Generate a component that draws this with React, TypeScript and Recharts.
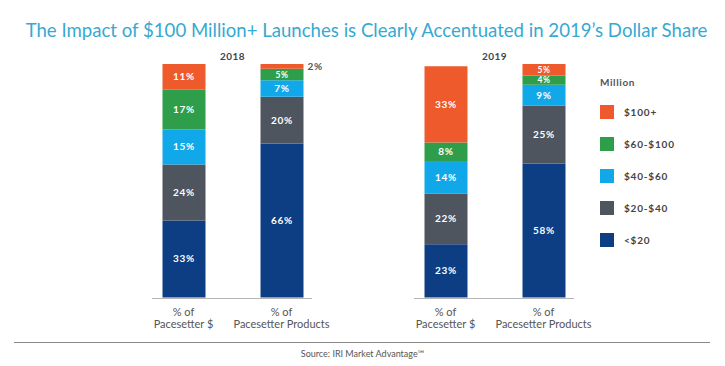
import { BarChart, Bar, XAxis, YAxis, LabelList } from "recharts";

const years = ["2018", "2019"];
const categories = ["% of\nPacesetter $", "% of\nPacesetter Products"];
const seriesNames = ["<$20", "$20-$40", "$40-$60", "$60-$100", "$100+"];
const seriesColors = ["#0D3E84", "#4F555F", "#11A8E9", "#2F9E4A", "#EE5A2C"];

// shares in %, bottom to top (<$20 ... $100+)
const dollars2018 = [33, 24, 15, 17, 11];
const products2018 = [66, 20, 7, 5, 2];
const dollars2019 = [23, 22, 14, 8, 33];
const products2019 = [58, 25, 9, 4, 5];

const toRows = (dollars: number[], products: number[]) =>
  [dollars, products].map((vals, i) => {
    const row: Record<string, string | number> = { cat: categories[i] };
    seriesNames.forEach((_, j) => (row[`s${j}`] = vals[j]));
    return row;
  });

const FONT = "Lato, 'Open Sans', sans-serif";

const SegLabel = (props: any) => {
  const vb = props.viewBox || {};
  const x = props.x ?? vb.x;
  const y = props.y ?? vb.y;
  const width = props.width ?? vb.width;
  const height = props.height ?? vb.height;
  const value = props.value;
  // thin segments get a slightly smaller label so neighbours don't collide
  const small = height < 12;
  const common = { fontSize: small ? 8.5 : 10, fontWeight: 700, fontFamily: FONT, letterSpacing: small ? 0.5 : 0.8 };
  if (value < 3) {
    return (
      <text x={x + width + 4} y={y + height / 2} dy={4} fill="#555" fontSize={10} fontWeight={700} fontFamily={FONT} letterSpacing={0.8}>
        {value}%
      </text>
    );
  }
  return (
    <text x={x + width / 2} y={y + height / 2} dy={small ? 3 : 3.5} textAnchor="middle" fill="#fff" {...common}>
      {value}%
    </text>
  );
};

const CatTick = (props: any) => {
  const { x, y, payload } = props;
  const lines = String(payload.value).split("\n");
  return (
    <text x={x} y={y} textAnchor="middle" fill="#555" fontSize={11} fontFamily={FONT}>
      {lines.map((l, i) => (
        <tspan key={i} x={x} dy={i === 0 ? 18 : 12}>
          {l}
        </tspan>
      ))}
    </text>
  );
};

function YearChart({ year, rows, left }: { year: string; rows: any[]; left: number }) {
  return (
    <div style={{ position: "absolute", left, top: 40, width: 270, height: 300 }}>
      <BarChart
        width={270}
        height={300}
        data={rows}
        margin={{ top: 24, right: 39.5, left: 34.5, bottom: 0 }}
        barSize={43}
      >
        <XAxis
          dataKey="cat"
          axisLine={false}
          tickLine={false}
          tickSize={0}
          tickMargin={0}
          height={42.5}
          interval={0}
          tick={<CatTick />}
        />
        <YAxis hide domain={[0, (max: number) => Math.max(100, max)]} />
        {seriesNames.map((s, j) => (
          <Bar key={s} dataKey={`s${j}`} stackId="a" fill={seriesColors[j]} isAnimationActive={false}>
            <LabelList dataKey={`s${j}`} content={SegLabel} />
          </Bar>
        ))}
      </BarChart>
      <div
        style={{
          position: "absolute",
          left: 34.5,
          width: 196,
          top: 10,
          textAlign: "center",
          fontSize: 10,
          fontWeight: 700,
          color: "#444",
          letterSpacing: 0.5,
        }}
      >
        {year}
      </div>
      <div style={{ position: "absolute", left: 52, width: 160, top: 257.5, height: 1, background: "#b5b5b5" }} />
    </div>
  );
}

export default function App() {
  const legendItems = seriesNames.map((n, i) => ({ n, c: seriesColors[i] })).reverse();
  return (
    <div
      style={{
        position: "absolute",
        left: 0,
        top: 0,
        width: 725,
        height: 366,
        background: "#fff",
        fontFamily: FONT,
        overflow: "hidden",
      }}
    >
      <div
        style={{
          position: "absolute",
          top: 18,
          left: 4,
          width: 725,
          textAlign: "center",
          fontSize: 18.6,
          color: "#36A9D2",
          lineHeight: "24px",
        }}
      >
        The Impact of $100 Million+ Launches is Clearly Accentuated in 2019’s Dollar Share
      </div>

      <YearChart year={years[0]} rows={toRows(dollars2018, products2018)} left={100} />
      <YearChart year={years[1]} rows={toRows(dollars2019, products2019)} left={362} />

      <div style={{ position: "absolute", left: 600, top: 75 }}>
        <div style={{ fontSize: 10, fontWeight: 700, color: "#555", letterSpacing: 0.6, height: 14, lineHeight: "14px" }}>
          Million
        </div>
        {legendItems.map((it, i) => (
          <div
            key={it.n}
            style={{ position: "absolute", top: 30 + i * 32, left: 0, display: "flex", alignItems: "center", whiteSpace: "nowrap" }}
          >
            <div style={{ width: 14, height: 14, background: it.c }} />
            <span style={{ marginLeft: 10, fontSize: 10, fontWeight: 700, color: "#444", letterSpacing: 0.8 }}>{it.n}</span>
          </div>
        ))}
      </div>

      <div style={{ position: "absolute", left: 14, width: 696, top: 342, height: 1, background: "#8a8a8a" }} />
      <div
        style={{
          position: "absolute",
          top: 348,
          left: 0,
          width: 725,
          textAlign: "center",
          fontSize: 9,
          color: "#555",
        }}
      >
        Source: IRI Market Advantage™
      </div>
    </div>
  );
}
